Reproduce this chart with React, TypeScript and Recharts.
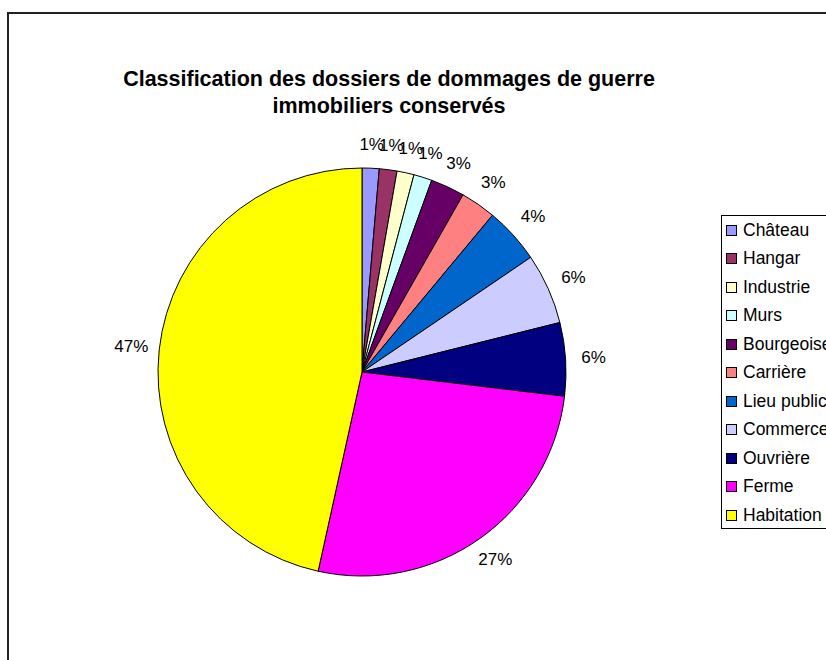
import { PieChart, Pie, Cell, Legend } from 'recharts';

const categories = [
  'Château',
  'Hangar',
  'Industrie',
  'Murs',
  'Bourgeoise',
  'Carrière',
  'Lieu public',
  'Commerce',
  'Ouvrière',
  'Ferme',
  'Habitation',
];
const shares = [1.35, 1.4, 1.35, 1.45, 2.7, 2.8, 4.45, 5.6, 5.8, 26.55, 46.55];
const colors = [
  '#9999FF',
  '#993366',
  '#FFFFCC',
  '#CCFFFF',
  '#660066',
  '#FF8080',
  '#0066CC',
  '#CCCCFF',
  '#000080',
  '#FF00FF',
  '#FFFF00',
];

const data = categories.map((name, i) => ({ name, value: shares[i], color: colors[i] }));

const FONT = '"Liberation Sans", Arial, sans-serif';

function renderLabel(props: any) {
  const { cx, cy, midAngle, outerRadius, percent } = props;
  const rad = (-midAngle * Math.PI) / 180;
  const ux = Math.cos(rad);
  const uy = Math.sin(rad);
  const text = `${Math.round(percent * 100)}%`;
  // label centre sits a bit further out on the sides than at the top
  const dist = outerRadius + 24 + 4 * Math.abs(ux);
  return (
    <text
      x={cx + dist * ux}
      y={cy + dist * uy}
      textAnchor="middle"
      dominantBaseline="central"
      fontSize={17}
      fontFamily={FONT}
      fill="#000"
    >
      {text}
    </text>
  );
}

function LegendBox() {
  return (
    <div
      style={{
        border: '1px solid #000',
        width: 130,
        height: 314,
        padding: '0 0 0 4px',
        boxSizing: 'border-box',
        fontFamily: FONT,
        fontSize: 17.5,
        color: '#000',
        background: '#fff',
      }}
    >
      {data.map((d) => (
        <div key={d.name} style={{ display: 'flex', alignItems: 'center', height: 28.5 }}>
          <span
            style={{
              display: 'inline-block',
              width: 9,
              height: 9,
              border: '1px solid #000',
              background: d.color,
              marginRight: 6,
            }}
          />
          <span style={{ whiteSpace: 'nowrap' }}>{d.name}</span>
        </div>
      ))}
    </div>
  );
}

export default function App() {
  return (
    <div
      style={{
        position: 'fixed',
        left: 0,
        top: 0,
        width: 826,
        height: 660,
        overflow: 'hidden',
        background: '#fff',
      }}
    >
      <div
        style={{
          position: 'absolute',
          left: 7,
          top: 12,
          width: 1000,
          height: 1000,
          borderLeft: '2px solid #222',
          borderTop: '2px solid #222',
        }}
      />
      <div
        style={{
          position: 'absolute',
          left: 39,
          top: 66,
          width: 700,
          textAlign: 'center',
          fontFamily: FONT,
          fontWeight: 'bold',
          fontSize: 21.5,
          lineHeight: '27px',
          color: '#000',
        }}
      >
        Classification des dossiers de dommages de guerre
        <br />
        immobiliers conservés
      </div>
      <PieChart
        width={826}
        height={660}
        margin={{ top: 0, right: 0, bottom: 0, left: 0 }}
        style={{ position: 'absolute', left: 0, top: 0 }}
      >
        <Pie
          data={data}
          dataKey="value"
          nameKey="name"
          cx={362}
          cy={372}
          outerRadius={204}
          startAngle={90}
          endAngle={-270}
          stroke="#000"
          strokeWidth={1}
          label={renderLabel}
          labelLine={false}
          isAnimationActive={false}
        >
          {data.map((entry, index) => (
            <Cell key={`cell-${index}`} fill={entry.color} />
          ))}
        </Pie>
        <Legend
          layout="vertical"
          content={() => <LegendBox />}
          wrapperStyle={{ position: 'absolute', left: 721, top: 215, width: 130 }}
        />
      </PieChart>
    </div>
  );
}
